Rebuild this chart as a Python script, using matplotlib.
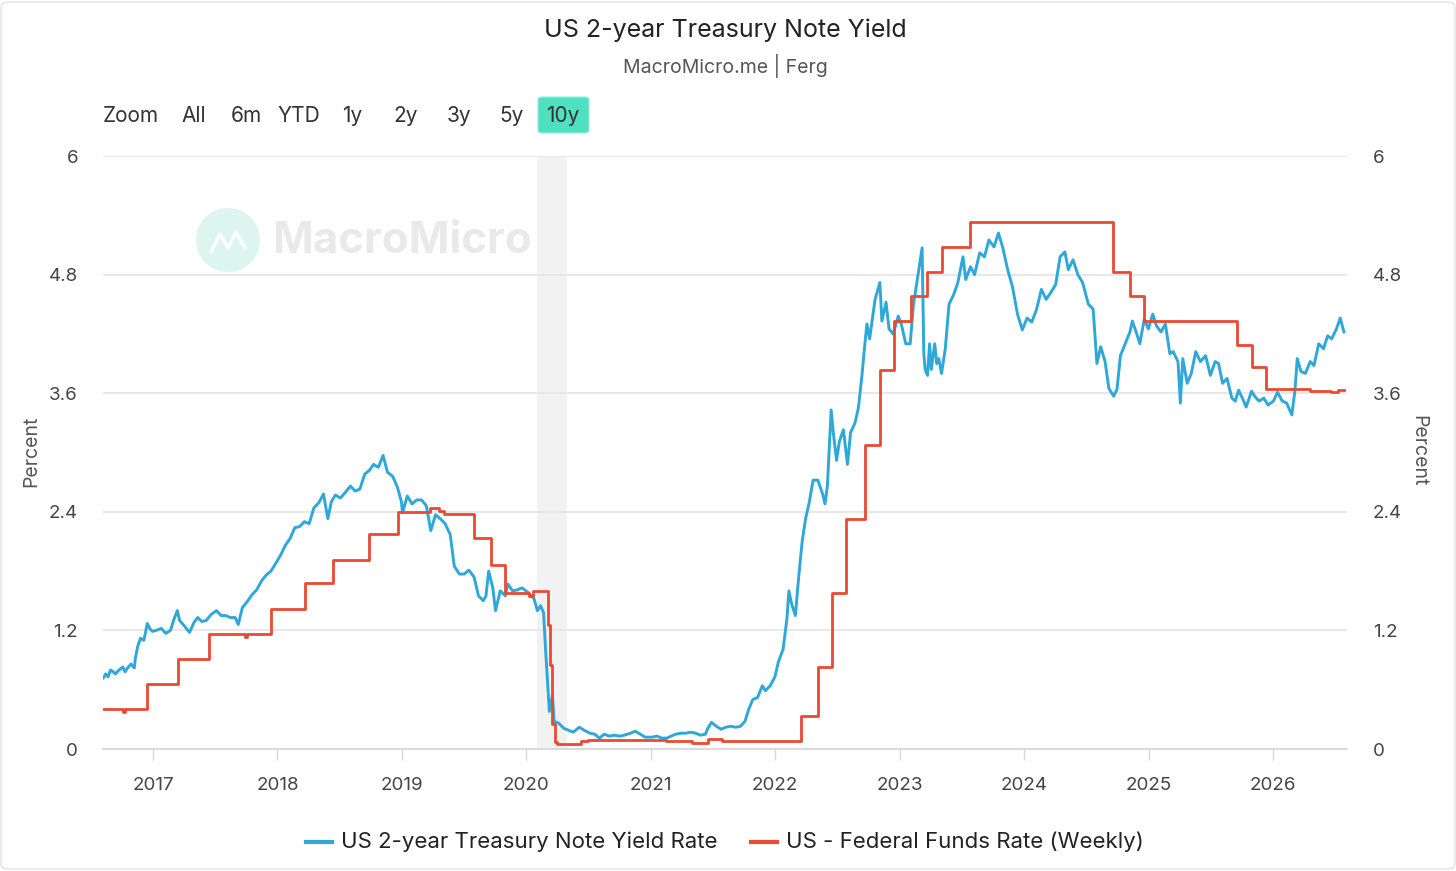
import matplotlib
matplotlib.use("Agg")
import matplotlib.pyplot as plt
import matplotlib.dates as mdates
from matplotlib.patches import Ellipse, FancyBboxPatch
from matplotlib.lines import Line2D
import pandas as pd

plt.rcParams['font.family'] = ['Inter', 'DejaVu Sans']

# ---------------- data ----------------
yield_dates = [
    '2016-08-08', '2016-08-15', '2016-08-22', '2016-08-29', '2016-09-06', '2016-09-13', '2016-09-20',
    '2016-10-04', '2016-10-11', '2016-10-18', '2016-10-28', '2016-11-07', '2016-11-10', '2016-11-17',
    '2016-11-25', '2016-12-05', '2016-12-15', '2016-12-22', '2016-12-30',
    '2017-01-10', '2017-01-25', '2017-02-07', '2017-02-21', '2017-03-03', '2017-03-13', '2017-03-20',
    '2017-04-04', '2017-04-18', '2017-05-01', '2017-05-12', '2017-05-24', '2017-06-06', '2017-06-20',
    '2017-07-06', '2017-07-20', '2017-08-02', '2017-08-16', '2017-08-30', '2017-09-08', '2017-09-20',
    '2017-10-04', '2017-10-18', '2017-11-01', '2017-11-15', '2017-11-29', '2017-12-13', '2017-12-29',
    '2018-01-10', '2018-01-24', '2018-02-07', '2018-02-21', '2018-03-07', '2018-03-21', '2018-04-04',
    '2018-04-18', '2018-05-02', '2018-05-16', '2018-05-29', '2018-06-08', '2018-06-20', '2018-07-05',
    '2018-07-20', '2018-08-03', '2018-08-17', '2018-08-31', '2018-09-14', '2018-09-28', '2018-10-10',
    '2018-10-24', '2018-11-07', '2018-11-20', '2018-12-05', '2018-12-19', '2018-12-31',
    '2019-01-03', '2019-01-17', '2019-01-31', '2019-02-14', '2019-02-28', '2019-03-14', '2019-03-27',
    '2019-04-10', '2019-04-24', '2019-05-08', '2019-05-23', '2019-06-04', '2019-06-19', '2019-07-03',
    '2019-07-17', '2019-08-01', '2019-08-14', '2019-08-28', '2019-09-05', '2019-09-13', '2019-09-25',
    '2019-10-03', '2019-10-17', '2019-11-01', '2019-11-08', '2019-11-22', '2019-12-06', '2019-12-20',
    '2020-01-08', '2020-01-24', '2020-02-03', '2020-02-12', '2020-02-21', '2020-02-27', '2020-03-03',
    '2020-03-09', '2020-03-18', '2020-03-23', '2020-04-06', '2020-04-20', '2020-05-04', '2020-05-18',
    '2020-06-05', '2020-06-19', '2020-07-06', '2020-07-20', '2020-08-03', '2020-08-17', '2020-09-01',
    '2020-09-15', '2020-10-01', '2020-10-15', '2020-11-02', '2020-11-16', '2020-12-01', '2020-12-15',
    '2021-01-04', '2021-01-19', '2021-02-02', '2021-02-17', '2021-03-01', '2021-03-15', '2021-03-31',
    '2021-04-14', '2021-04-28', '2021-05-12', '2021-05-26', '2021-06-10', '2021-06-17', '2021-06-28',
    '2021-07-12', '2021-07-26', '2021-08-09', '2021-08-23', '2021-09-07', '2021-09-21', '2021-10-04',
    '2021-10-15', '2021-10-27', '2021-11-10', '2021-11-24', '2021-12-03', '2021-12-17', '2021-12-31',
    '2022-01-10', '2022-01-24', '2022-02-04', '2022-02-10', '2022-02-18', '2022-03-01', '2022-03-11',
    '2022-03-21', '2022-03-31', '2022-04-11', '2022-04-22', '2022-05-06', '2022-05-20', '2022-05-27',
    '2022-06-03', '2022-06-14', '2022-06-21', '2022-06-30', '2022-07-08', '2022-07-20', '2022-08-01',
    '2022-08-10', '2022-08-23', '2022-09-02', '2022-09-13', '2022-09-21', '2022-09-27', '2022-10-05',
    '2022-10-21', '2022-11-04', '2022-11-10', '2022-11-22', '2022-12-01', '2022-12-13', '2022-12-28',
    '2023-01-06', '2023-01-19', '2023-02-01', '2023-02-10', '2023-02-24', '2023-03-08', '2023-03-13',
    '2023-03-17', '2023-03-24', '2023-03-30', '2023-04-04', '2023-04-14', '2023-04-20', '2023-04-26',
    '2023-05-04', '2023-05-15', '2023-05-26', '2023-06-09', '2023-06-21', '2023-07-06', '2023-07-14',
    '2023-07-28', '2023-08-09', '2023-08-24', '2023-09-07', '2023-09-20', '2023-10-05', '2023-10-18',
    '2023-10-31', '2023-11-14', '2023-11-28', '2023-12-13', '2023-12-27',
    '2024-01-10', '2024-01-24', '2024-02-07', '2024-02-21', '2024-03-06', '2024-03-20', '2024-04-03',
    '2024-04-16', '2024-04-30', '2024-05-10', '2024-05-24', '2024-06-07', '2024-06-21', '2024-07-08',
    '2024-07-22', '2024-08-02', '2024-08-13', '2024-08-26', '2024-09-06', '2024-09-20', '2024-09-30',
    '2024-10-10', '2024-10-24', '2024-11-07', '2024-11-14', '2024-11-27', '2024-12-06', '2024-12-19',
    '2024-12-31',
    '2025-01-13', '2025-01-24', '2025-02-06', '2025-02-19', '2025-03-04', '2025-03-14', '2025-03-28',
    '2025-04-04', '2025-04-11', '2025-04-24', '2025-05-06', '2025-05-19', '2025-06-02', '2025-06-17',
    '2025-07-01', '2025-07-15', '2025-07-25', '2025-08-06', '2025-08-19', '2025-09-02', '2025-09-12',
    '2025-09-22', '2025-10-03', '2025-10-14', '2025-10-30', '2025-11-10', '2025-11-21', '2025-12-05',
    '2025-12-17',
    '2026-01-02', '2026-01-14', '2026-01-28', '2026-02-10', '2026-02-25', '2026-03-06', '2026-03-13',
    '2026-03-24', '2026-04-06', '2026-04-20', '2026-05-01', '2026-05-15', '2026-05-29', '2026-06-10',
    '2026-06-22', '2026-07-06', '2026-07-17', '2026-07-28',
]
yield_values = [
    0.72, 0.76, 0.73, 0.80, 0.78, 0.76, 0.79,
    0.83, 0.78, 0.82, 0.86, 0.82, 0.92, 1.04,
    1.12, 1.10, 1.27, 1.22, 1.19,
    1.20, 1.22, 1.17, 1.20, 1.31, 1.40, 1.30,
    1.24, 1.18, 1.28, 1.33, 1.29, 1.30, 1.36,
    1.40, 1.35, 1.35, 1.33, 1.33, 1.26, 1.43,
    1.49, 1.56, 1.61, 1.70, 1.76, 1.80, 1.89,
    1.96, 2.06, 2.13, 2.24, 2.25, 2.30, 2.28,
    2.44, 2.49, 2.58, 2.33, 2.50, 2.57, 2.54,
    2.60, 2.66, 2.61, 2.63, 2.78, 2.82, 2.88,
    2.85, 2.97, 2.80, 2.76, 2.65, 2.50,
    2.39, 2.56, 2.48, 2.52, 2.52, 2.46, 2.21,
    2.37, 2.33, 2.28, 2.17, 1.85, 1.77, 1.77,
    1.81, 1.74, 1.55, 1.50, 1.55, 1.80, 1.63,
    1.40, 1.60, 1.55, 1.67, 1.60, 1.61, 1.63,
    1.58, 1.52, 1.40, 1.45, 1.38, 1.00, 0.72,
    0.38, 0.54, 0.28, 0.26, 0.21, 0.19, 0.17,
    0.22, 0.19, 0.16, 0.15, 0.11, 0.15, 0.13,
    0.14, 0.13, 0.14, 0.16, 0.18, 0.15, 0.12,
    0.12, 0.13, 0.11, 0.11, 0.13, 0.15, 0.16,
    0.16, 0.17, 0.16, 0.14, 0.15, 0.21, 0.27,
    0.23, 0.20, 0.22, 0.23, 0.22, 0.23, 0.28,
    0.40, 0.50, 0.52, 0.64, 0.59, 0.64, 0.73,
    0.88, 1.01, 1.31, 1.60, 1.47, 1.35, 1.75,
    2.10, 2.33, 2.50, 2.72, 2.72, 2.58, 2.48,
    2.66, 3.43, 3.18, 2.92, 3.11, 3.23, 2.88,
    3.20, 3.30, 3.45, 3.80, 4.10, 4.30, 4.15,
    4.55, 4.72, 4.33, 4.52, 4.25, 4.20, 4.38,
    4.30, 4.10, 4.10, 4.48, 4.80, 5.07, 4.00,
    3.84, 3.78, 4.10, 3.84, 4.10, 3.90, 3.95,
    3.80, 4.05, 4.50, 4.60, 4.72, 4.98, 4.75,
    4.88, 4.80, 5.02, 4.98, 5.15, 5.08, 5.22,
    5.07, 4.85, 4.68, 4.40, 4.24,
    4.36, 4.32, 4.45, 4.65, 4.55, 4.62, 4.70,
    4.98, 5.03, 4.85, 4.95, 4.80, 4.72, 4.50,
    4.45, 3.90, 4.07, 3.92, 3.65, 3.57, 3.64,
    3.98, 4.10, 4.22, 4.33, 4.20, 4.10, 4.35,
    4.25,
    4.40, 4.28, 4.22, 4.30, 4.00, 4.02, 3.92,
    3.50, 3.95, 3.70, 3.80, 4.02, 3.92, 3.98,
    3.78, 3.92, 3.90, 3.70, 3.75, 3.55, 3.52,
    3.63, 3.55, 3.46, 3.62, 3.56, 3.52, 3.55,
    3.48,
    3.52, 3.61, 3.52, 3.50, 3.38, 3.62, 3.95,
    3.82, 3.80, 3.92, 3.88, 4.10, 4.05, 4.18,
    4.15, 4.25, 4.36, 4.22,
]

fed_dates = [
    '2016-08-08', '2016-10-05', '2016-10-12', '2016-12-15', '2017-03-16', '2017-06-15', '2017-09-28',
    '2017-10-05', '2017-12-14', '2018-03-22', '2018-06-14', '2018-09-27', '2018-12-20', '2019-03-25',
    '2019-04-20', '2019-05-06', '2019-08-01', '2019-09-19', '2019-10-31', '2020-01-10', '2020-01-20',
    '2020-03-04', '2020-03-11', '2020-03-18', '2020-03-25', '2020-04-01', '2020-06-10', '2020-07-01',
    '2021-02-15', '2021-05-01', '2021-06-17', '2021-07-29', '2022-03-17', '2022-05-05', '2022-06-16',
    '2022-07-28', '2022-09-22', '2022-11-03', '2022-12-15', '2023-02-02', '2023-03-23', '2023-05-04',
    '2023-07-27', '2024-09-19', '2024-11-08', '2024-12-19', '2025-09-18', '2025-10-30', '2025-12-11',
    '2026-04-20', '2026-06-20', '2026-07-10', '2026-07-28',
]
fed_values = [
    0.40, 0.37, 0.40, 0.66, 0.91, 1.16, 1.13,
    1.16, 1.42, 1.68, 1.91, 2.18, 2.40, 2.44,
    2.41, 2.38, 2.13, 1.86, 1.58, 1.55, 1.60,
    1.25, 0.85, 0.25, 0.07, 0.05, 0.08, 0.09,
    0.08, 0.06, 0.10, 0.08, 0.33, 0.83, 1.58,
    2.33, 3.08, 3.83, 4.33, 4.58, 4.83, 5.08,
    5.33, 4.83, 4.58, 4.33, 4.09, 3.87, 3.64,
    3.62, 3.61, 3.63, 3.63,
]

recession_start, recession_end = '2020-02-01', '2020-04-30'
y_ticks = [0, 1.2, 2.4, 3.6, 4.8, 6]
y_tick_labels = ['0', '1.2', '2.4', '3.6', '4.8', '6']
range_buttons = ['Zoom', 'All', '6m', 'YTD', '1y', '2y', '3y', '5y', '10y']
series_names = ['US 2-year Treasury Note Yield Rate', 'US - Federal Funds Rate (Weekly)']

BLUE = '#2ea7d9'
RED = '#e84a32'

# ---------------- figure ----------------
W, H = 1456, 871
fig = plt.figure(figsize=(W / 100, H / 100), dpi=100)
fig.patch.set_facecolor('white')

def fx(px):
    return px / W

def fy(py):
    return 1 - py / H

ax = fig.add_axes([fx(103), fy(749), fx(1347) - fx(103), fy(156) - fy(749)])
ax.set_facecolor('none')

yd = pd.to_datetime(yield_dates)
fd = pd.to_datetime(fed_dates)

ax.axvspan(pd.Timestamp(recession_start), pd.Timestamp(recession_end), color='#f2f2f2', zorder=0, lw=0)
ax.plot(yd, yield_values, color=BLUE, lw=2.1, zorder=3, solid_joinstyle='round')
ax.plot(fd, fed_values, color=RED, lw=2.0, zorder=4, drawstyle='steps-post', solid_joinstyle='round')

ax.set_xlim(pd.Timestamp('2016-08-07'), pd.Timestamp('2026-08-06'))
ax.set_ylim(0, 6)
ax.set_yticks(y_ticks)
ax.set_yticklabels(y_tick_labels)
ax.yaxis.grid(True, color='#e6e6e6', lw=1.3)
ax.set_axisbelow(True)
for s in ['top', 'right', 'left']:
    ax.spines[s].set_visible(False)
ax.spines['bottom'].set_color('#d8d8d8')
ax.spines['bottom'].set_linewidth(1.3)

ax.xaxis.set_major_locator(mdates.YearLocator())
ax.xaxis.set_major_formatter(mdates.DateFormatter('%Y'))
ax.tick_params(axis='x', length=8, width=1.0, color='#d8d8d8', labelsize=13.5, labelcolor='#444444', pad=12.5)
ax.tick_params(axis='y', length=0, labelsize=13.5, labelcolor='#444444', pad=18)

ax2 = ax.twinx()
ax2.set_ylim(0, 6)
ax2.set_yticks(y_ticks)
ax2.set_yticklabels(y_tick_labels)
ax2.tick_params(axis='y', length=0, labelsize=13.5, labelcolor='#444444', pad=18.5)
for s in ['top', 'right', 'left', 'bottom']:
    ax2.spines[s].set_visible(False)

fig.text(fx(31), fy(451), 'Percent', rotation=90, ha='center', va='center', fontsize=14, color='#555555')
fig.text(fx(1418), fy(451), 'Percent', rotation=-90, ha='center', va='center', fontsize=14, color='#555555')

# titles
fig.text(fx(725), fy(30), 'US 2-year Treasury Note Yield', ha='center', va='center', fontsize=18, color='#222222')
fig.text(fx(725), fy(66), 'MacroMicro.me | Ferg', ha='center', va='center', fontsize=14, color='#555555')

# range selector
btn_x = [131, 194, 246, 299, 352, 406, 459, 512, 563]
fig.add_artist(FancyBboxPatch((fx(538), fy(133)), fx(589) - fx(538), fy(97) - fy(133),
                              boxstyle='round,pad=0,rounding_size=0.003', transform=fig.transFigure,
                              facecolor='#4fe0c1', edgecolor='#9aeed8', lw=0.8))
for lab, x in zip(range_buttons, btn_x):
    fig.text(fx(x), fy(116), lab, ha='center', va='center', fontsize=15, color='#333333')

# watermark
fig.add_artist(Ellipse((fx(228), fy(240)), 64 / W, 64 / H, transform=fig.transFigure,
                       facecolor='#dcf6ef', edgecolor='none', zorder=1))
fig.add_artist(Line2D([fx(211), fx(220), fx(228), fx(236), fx(245)],
                      [fy(252), fy(234), fy(248), fy(232), fy(248)],
                      transform=fig.transFigure, color='white', lw=2.5, zorder=2))
fig.text(fx(272), fy(241), 'MacroMicro', ha='left', va='center', fontsize=31.5, fontweight='bold',
         color='#e9e9e9', zorder=1)

# legend
ly = fy(842)
fig.add_artist(Line2D([fx(306), fx(332)], [ly, ly], transform=fig.transFigure, color=BLUE, lw=3))
fig.text(fx(341), ly, series_names[0], ha='left', va='center', fontsize=16, color='#222222')
fig.add_artist(Line2D([fx(751), fx(777)], [ly, ly], transform=fig.transFigure, color=RED, lw=3))
fig.text(fx(786), ly, series_names[1], ha='left', va='center', fontsize=16, color='#222222')

# frame
fig.add_artist(FancyBboxPatch((fx(1), fy(869)), fx(1454), fy(2) - fy(869),
                              boxstyle='round,pad=0,rounding_size=0.006', transform=fig.transFigure,
                              facecolor='none', edgecolor='#e2e2e2', lw=1.0))

fig.savefig('out.png', dpi=100, facecolor='white')
